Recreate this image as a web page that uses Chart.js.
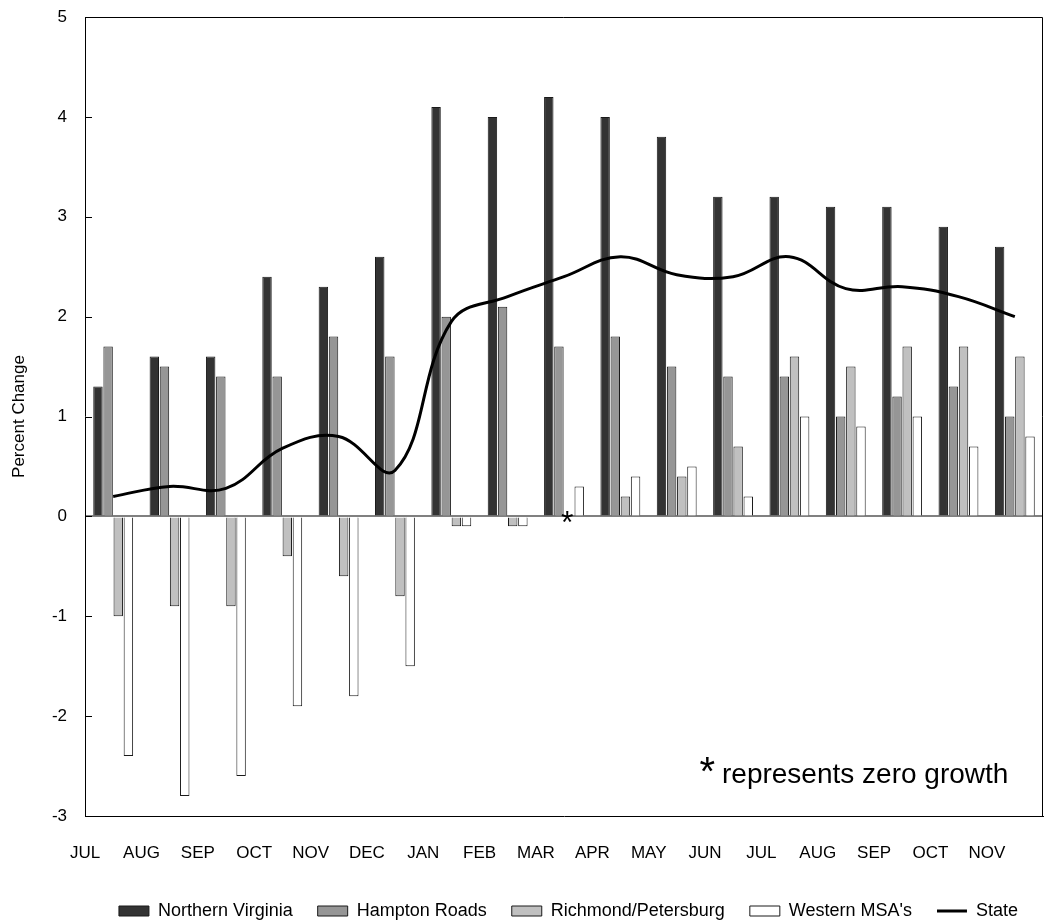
<!DOCTYPE html>
<html>
<head>
<meta charset="utf-8">
<script src="https://cdn.jsdelivr.net/npm/chart.js@4.4.1/dist/chart.umd.min.js"></script>
<style>
  html, body { margin: 0; padding: 0; background: #ffffff; }
  #wrap { width: 1044px; height: 921px; }
</style>
</head>
<body>
<div id="wrap"><canvas id="chart" width="1044" height="921"></canvas></div>
<script>
// Monthly percent change by region
const months = ['JUL', 'AUG', 'SEP', 'OCT', 'NOV', 'DEC', 'JAN', 'FEB', 'MAR',
                'APR', 'MAY', 'JUN', 'JUL', 'AUG', 'SEP', 'OCT', 'NOV'];
const northernVirginia = [1.3, 1.6, 1.6, 2.4, 2.3, 2.6, 4.1, 4.0, 4.2, 4.0, 3.8, 3.2, 3.2, 3.1, 3.1, 2.9, 2.7];
const hamptonRoads     = [1.7, 1.5, 1.4, 1.4, 1.8, 1.6, 2.0, 2.1, 1.7, 1.8, 1.5, 1.4, 1.4, 1.0, 1.2, 1.3, 1.0];
const richmond         = [-1.0, -0.9, -0.9, -0.4, -0.6, -0.8, -0.1, -0.1, 0, 0.2, 0.4, 0.7, 1.6, 1.5, 1.7, 1.7, 1.6];
const westernMSAs      = [-2.4, -2.8, -2.6, -1.9, -1.8, -1.5, -0.1, -0.1, 0.3, 0.4, 0.5, 0.2, 1.0, 0.9, 1.0, 0.7, 0.8];
const state            = [0.2, 0.3, 0.28, 0.68, 0.8, 0.46, 1.95, 2.2, 2.4, 2.6, 2.42, 2.4, 2.6, 2.28, 2.3, 2.2, 2.0];
const yTicks = [-3, -2, -1, 0, 1, 2, 3, 4, 5];

const FONT = "'Liberation Sans', Arial, sans-serif";

// Plot frame (top/right edges) and inward tick marks on the value axis
const framePlugin = {
  id: 'frame',
  beforeDatasetsDraw(chart) {
    const { ctx, chartArea: a, scales: { y } } = chart;
    ctx.save();
    ctx.strokeStyle = '#000';
    ctx.lineWidth = 1;
    ctx.beginPath();
    ctx.moveTo(a.left, a.top + 0.5);
    ctx.lineTo(a.right - 0.5, a.top + 0.5);
    ctx.lineTo(a.right - 0.5, a.bottom);
    yTicks.forEach(v => {
      const py = Math.round(y.getPixelForValue(v)) + 0.5;
      ctx.moveTo(a.left, py);
      ctx.lineTo(a.left + 7, py);
    });
    ctx.stroke();
    ctx.restore();
  }
};

// Asterisk on zero-growth bars plus the explanatory note
function drawStar(ctx, x, cy, size) {
  ctx.font = `${size}px ${FONT}`;
  const m = ctx.measureText('*');
  const w = m.actualBoundingBoxLeft + m.actualBoundingBoxRight;
  const h = m.actualBoundingBoxAscent + m.actualBoundingBoxDescent;
  ctx.textAlign = 'left';
  ctx.textBaseline = 'alphabetic';
  ctx.fillText('*', x - w / 2 + m.actualBoundingBoxLeft, cy + h / 2 - m.actualBoundingBoxDescent);
}

const zeroMarkPlugin = {
  id: 'zeroMark',
  afterDatasetsDraw(chart) {
    const { ctx, scales: { y } } = chart;
    ctx.save();
    ctx.fillStyle = '#000';
    chart.data.datasets.forEach((ds, di) => {
      if (ds.type === 'line') return;
      const meta = chart.getDatasetMeta(di);
      ds.data.forEach((v, i) => {
        if (v === 0) drawStar(ctx, meta.data[i].x - 2, y.getPixelForValue(0) + 9, 32);
      });
    });
    drawStar(ctx, 707, 764, 40);
    ctx.font = `28px ${FONT}`;
    ctx.textAlign = 'left';
    ctx.textBaseline = 'alphabetic';
    ctx.fillText('represents zero growth', 722, 783);
    ctx.restore();
  }
};

const barStyle = (label, data, color) => ({
  type: 'bar',
  label,
  data,
  backgroundColor: color,
  borderColor: '#1a1a1a',
  borderWidth: 1,
  pointStyle: 'rect',
  categoryPercentage: 0.72,
  barPercentage: 0.93
});

new Chart(document.getElementById('chart'), {
  data: {
    labels: months,
    datasets: [
      barStyle('Northern Virginia', northernVirginia, '#333333'),
      barStyle('Hampton Roads', hamptonRoads, '#969696'),
      barStyle('Richmond/Petersburg', richmond, '#c0c0c0'),
      barStyle("Western MSA's", westernMSAs, '#ffffff'),
      {
        type: 'line',
        label: 'State',
        data: state,
        borderColor: '#000',
        backgroundColor: '#000',
        borderWidth: 3,
        pointRadius: 0,
        pointStyle: 'line',
        tension: 0.4,
        fill: false,
        order: -1
      }
    ]
  },
  options: {
    responsive: false,
    animation: false,
    devicePixelRatio: 1,
    layout: { padding: { top: 17, right: 1, left: 0, bottom: -9 } },
    plugins: {
      tooltip: { enabled: false },
      legend: {
        position: 'bottom',
        align: 'end',
        labels: {
          usePointStyle: true,
          pointStyleWidth: 30,
          boxHeight: 10,
          padding: 25,
          color: '#000',
          font: { family: FONT, size: 18 },
          sort: (a, b) => a.datasetIndex - b.datasetIndex
        }
      }
    },
    scales: {
      x: {
        type: 'category',
        offset: true,
        grid: { display: false },
        border: { display: true, color: '#000', width: 1 },
        ticks: {
          color: '#000',
          font: { family: FONT, size: 17 },
          padding: 19,
          labelOffset: -28,
          maxRotation: 0,
          autoSkip: false
        },
        afterFit(scale) {
          scale.height = 61;
          scale.paddingLeft = 0;
          scale.paddingRight = 0;
        }
      },
      y: {
        min: -3,
        max: 5,
        afterBuildTicks(scale) { scale.ticks = yTicks.map(v => ({ value: v })); },
        grid: {
          drawTicks: false,
          color: c => (c.tick && c.tick.value === 0 ? '#808080' : 'rgba(0,0,0,0)'),
          lineWidth: c => (c.tick && c.tick.value === 0 ? 2 : 0)
        },
        border: { display: true, color: '#000', width: 1 },
        ticks: {
          color: '#000',
          font: { family: FONT, size: 17 },
          padding: 18
        },
        title: {
          display: true,
          text: 'Percent Change',
          color: '#000',
          font: { family: FONT, size: 17 },
          padding: { top: 9, bottom: 0 }
        },
        afterFit(scale) {
          scale.width = 85;
          scale.paddingTop = 0;
          scale.paddingBottom = 0;
        }
      }
    }
  },
  plugins: [framePlugin, zeroMarkPlugin]
});
</script>
</body>
</html>
